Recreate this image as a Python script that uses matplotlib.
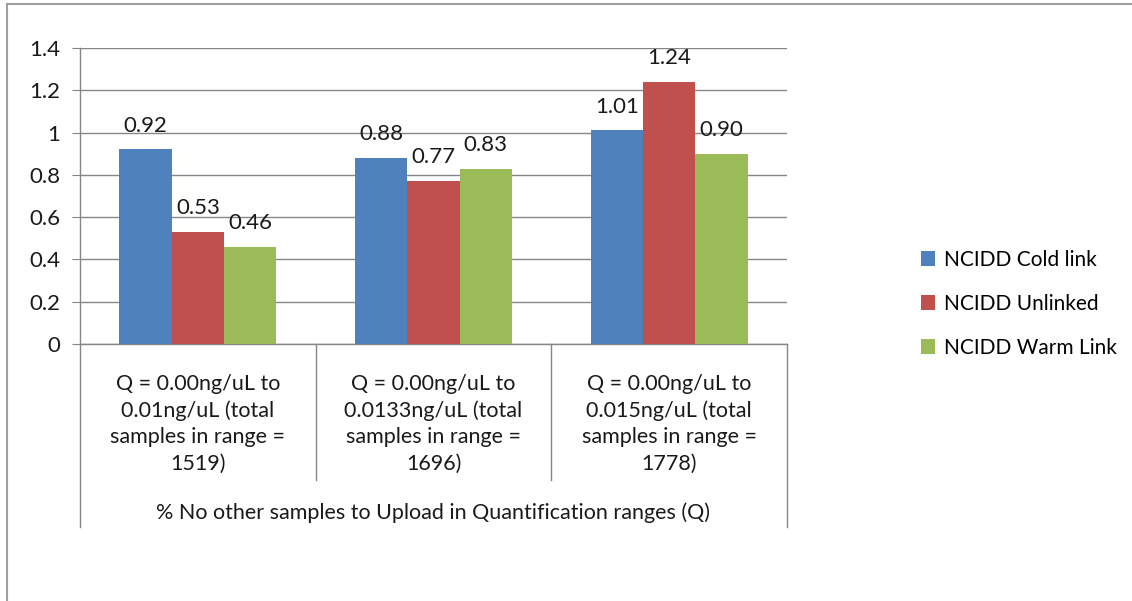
import matplotlib
matplotlib.use("Agg")
import matplotlib.pyplot as plt
from matplotlib.lines import Line2D
import numpy as np

plt.rcParams['font.family'] = ['Lato', 'DejaVu Sans']

# data
categories = [
    "Q = 0.00ng/uL to\n0.01ng/uL (total\nsamples in range =\n1519)",
    "Q = 0.00ng/uL to\n0.0133ng/uL (total\nsamples in range =\n1696)",
    "Q = 0.00ng/uL to\n0.015ng/uL (total\nsamples in range =\n1778)",
]
series_names = ["NCIDD Cold link", "NCIDD Unlinked", "NCIDD Warm Link"]
cold_link = [0.92, 0.88, 1.01]
unlinked = [0.53, 0.77, 1.24]
warm_link = [0.46, 0.83, 0.90]
colors = ["#4f81bd", "#c0504d", "#9bbb59"]
axis_title = "% No other samples to Upload in Quantification ranges (Q)"

W, H = 1132, 601
fig = plt.figure(figsize=(W / 100, H / 100), dpi=100)
ax = fig.add_axes([80 / W, (H - 344) / H, (787 - 80) / W, (344 - 48) / H])

grid_c = "#868686"
txt_c = "#1a1a1a"
fs = 15.5
x = np.arange(len(categories))
bw = 0.222
for i, (vals, name) in enumerate(zip([cold_link, unlinked, warm_link], series_names)):
    pos = x + (i - 1) * bw
    ax.bar(pos, vals, width=bw, color=colors[i], label=name, zorder=3)
    for p, v in zip(pos, vals):
        ax.annotate(f"{v:.2f}", (p, v), xytext=(0, 10), textcoords="offset points",
                    ha="center", va="bottom", fontsize=16, color=txt_c)

ax.set_xlim(-0.5, 2.5)
ax.set_ylim(0, 1.4)
ax.set_yticks(np.arange(0, 1.41, 0.2))
ax.set_yticklabels(["0", "0.2", "0.4", "0.6", "0.8", "1", "1.2", "1.4"])
ax.yaxis.grid(True, color=grid_c, linewidth=1)
ax.set_axisbelow(True)
for s in ["top", "right"]:
    ax.spines[s].set_visible(False)
for s in ["left", "bottom"]:
    ax.spines[s].set_color(grid_c)
    ax.spines[s].set_linewidth(1)
ax.tick_params(axis="y", length=6, color=grid_c, labelsize=16, pad=8, labelcolor=txt_c)
ax.tick_params(axis="x", length=0)
ax.set_xticks([])

# category labels and separators
trans = ax.get_xaxis_transform()
for xi, lab in zip(x, categories):
    ax.text(xi, -0.27, lab, transform=trans, ha="center", va="center",
            fontsize=fs, color=txt_c, linespacing=1.38)
for xs in [0.5, 1.5]:
    ax.plot([xs, xs], [0, -0.459], transform=trans, color=grid_c, lw=1, clip_on=False)
for xs in [-0.5, 2.5]:
    ax.plot([xs, xs], [0, -0.618], transform=trans, color=grid_c, lw=1, clip_on=False)
ax.text(1, -0.571, axis_title, transform=trans, ha="center", va="center",
        fontsize=fs, color=txt_c)

leg = ax.legend(loc="center left", bbox_to_anchor=(902 / W, (H - 304) / H),
                bbox_transform=fig.transFigure, frameon=False, fontsize=15,
                handlelength=0.7, handleheight=0.7, handletextpad=0.4,
                labelspacing=1.15)

# chart border (top and left)
fig.add_artist(Line2D([7 / W, 1], [(H - 4) / H, (H - 4) / H], transform=fig.transFigure,
                      color="#a0a0a0", lw=1.5))
fig.add_artist(Line2D([7 / W, 7 / W], [0, (H - 4) / H], transform=fig.transFigure,
                      color="#a0a0a0", lw=1.5))

fig.savefig("out.png", dpi=100)
